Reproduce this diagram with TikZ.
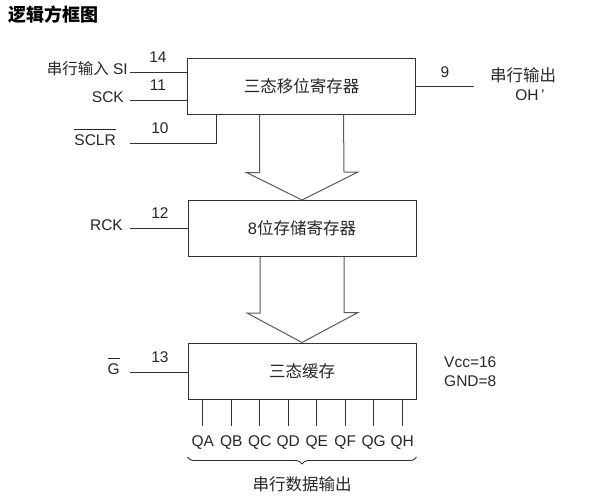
\documentclass[tikz,border=0pt]{standalone}
\usepackage{fontspec}
\setmainfont{Liberation Sans}
\newfontfamily\cjk{Noto Sans CJK SC}
\usetikzlibrary{calc,decorations.pathreplacing}

% active-low signal name
\newcommand{\ovl}[1]{\ensuremath{\overline{\rule{0pt}{15pt}\mbox{#1}}}}

\begin{document}
\begin{tikzpicture}[
    x=1pt, y=-1pt,
    font=\fontsize{15.5}{19}\selectfont,
    every node/.style={text=black!85},
    block/.style={rectangle, draw=black!80, line width=1pt, minimum width=228pt, minimum height=56pt, inner sep=0pt, font=\fontsize{16.5}{18}\selectfont},
    lbl/.style={anchor=mid east, inner sep=0pt},
    pin/.style={inner sep=0pt},
    wire/.style={draw=black!80, line width=0.9pt},
    bigarrow/.style={draw=black!65, line width=1pt}
]
\useasboundingbox (0,0) rectangle (592,499);

% Title
\node[anchor=west, inner sep=0pt, text=black, font=\cjk\bfseries\fontsize{18}{20}\selectfont] (title) at (8,15) {逻辑方框图};

% Blocks
\node[block] (shift) at (301.5,86) {\cjk 三态移位寄存器};
\node[block] (store) at (302,228.5) {8{\cjk 位存储寄存器}};
\node[block] (buffer) at (302,371) {\cjk 三态缓存};

% Inputs
\coordinate (wx) at (130,0);
\node[lbl] (si) at (128,72) {{\cjk 串行输入} SI};
\node[lbl] (sck) at (124,100) {SCK};
\node[lbl] (sclr) at (116,143) {\ovl{SCLR}};
\node[lbl] (rck) at (123,228) {RCK};
\node[lbl] (g) at (120,372) {\ovl{G}};

\node[pin] (n14) at (158,57) {14};
\node[pin] (n11) at (158,85) {11};
\node[pin] (n10) at (160,128) {10};
\node[pin] (n12) at (160,213) {12};
\node[pin] (n13) at (160,357) {13};

\draw[wire] (si.mid east -| wx) -- (si.mid east -| shift.west);
\draw[wire] (sck.mid east -| wx) -- (sck.mid east -| shift.west);
\coordinate (clr) at (216,0);
\draw[wire] (sclr.mid east -| wx) -| (clr |- shift.south);
\draw[wire] (rck.mid east -| wx) -- (rck.mid east -| store.west);
\draw[wire] (g.mid east -| wx) -- (g.mid east -| buffer.west);

% Serial output
\node[pin] (n9) at (445,72) {9};
\draw[wire] (shift.east) -- ++(58,0) coordinate (oh);
\node[font=\cjk\fontsize{16.5}{18}\selectfont] (serout) at (523,75) {串行输出};
\node (ohl) at (530,95) {OH\,’};

% Data path arrows
\draw[bigarrow] ($(shift.south)+(-42,0)$) -- ++(0,58) -- ++(-13,0) -- (store.north) -- ++(56,-28) -- ++(-14,0) -- ($(shift.south)+(42,0)$);
\draw[bigarrow] ($(store.south)+(-42,0)$) -- ++(0,56) -- ++(-13,0) -- (buffer.north) -- ++(56,-30) -- ++(-14,0) -- ($(store.south)+(42,0)$);

% Supply
\node[anchor=west, align=left, inner sep=0pt] (pwr) at (444,371.5) {Vcc=16\\GND=8};

% Parallel outputs
\foreach \q [count=\i from 0] in {A,B,C,D,E,F,G,H} {
  \node[pin] (q\q) at (202.7+28.5*\i,443) {Q\q};
  \draw[wire] (buffer.south -| q\q) -- ([yshift=10pt]q\q.north);
}

\coordinate (br) at (0,457);
\draw[wire, decorate, decoration={brace, amplitude=7pt}] (buffer.east |- br) -- (buffer.west |- br);
\node[font=\cjk\fontsize{16.5}{18}\selectfont] (parout) at (302,484) {串行数据输出};

\end{tikzpicture}
\end{document}
